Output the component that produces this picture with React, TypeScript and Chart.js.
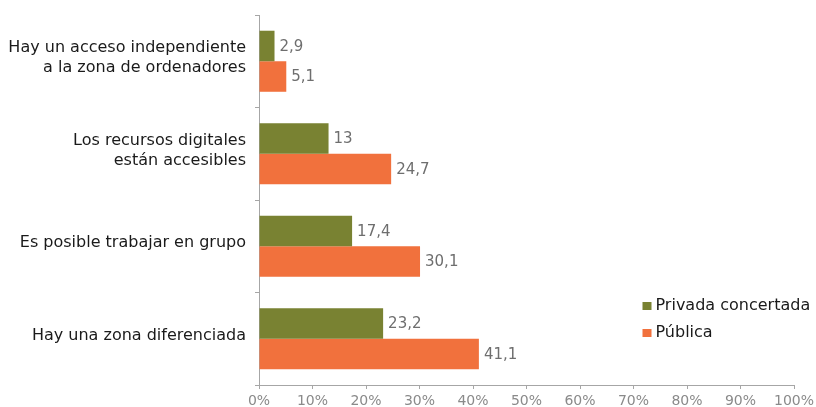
import React, { useEffect, useRef } from "react";
import { Chart, registerables } from "chart.js";

Chart.register(...registerables);

const categories: string[][] = [
  ["Hay un acceso independiente", "a la zona de ordenadores"],
  ["Los recursos digitales", "están accesibles"],
  ["Es posible trabajar en grupo"],
  ["Hay una zona diferenciada"],
];
const privadaValues = [2.9, 13, 17.4, 23.2];
const publicaValues = [5.1, 24.7, 30.1, 41.1];
const seriesNames = ["Privada concertada", "Pública"];
const seriesColors = ["#798232", "#F1713D"];
const xTicks = [0, 10, 20, 30, 40, 50, 60, 70, 80, 90, 100];

const FONT = "'DejaVu Sans', Verdana, sans-serif";

const fmt = (v: number) => String(v).replace(".", ",");

const valueLabels = {
  id: "valueLabels",
  afterDatasetsDraw(chart: any) {
    const ctx = chart.ctx;
    ctx.save();
    ctx.font = `15px ${FONT}`;
    ctx.fillStyle = "#6e6e6e";
    ctx.textAlign = "left";
    ctx.textBaseline = "middle";
    chart.data.datasets.forEach((ds: any, i: number) => {
      const meta = chart.getDatasetMeta(i);
      meta.data.forEach((el: any, j: number) => {
        ctx.fillText(fmt(ds.data[j]), el.x + 5, el.y + 1);
      });
    });
    ctx.restore();
  },
};

const customLegend = {
  id: "customLegend",
  afterDraw(chart: any) {
    const ctx = chart.ctx;
    const area = chart.chartArea;
    const x = area.left + 0.7 * (area.right - area.left) + 9;
    const baselines = [area.top + 295, area.top + 322];
    ctx.save();
    ctx.font = `16px ${FONT}`;
    ctx.textAlign = "left";
    ctx.textBaseline = "alphabetic";
    seriesNames.forEach((name, i) => {
      ctx.fillStyle = seriesColors[i];
      ctx.fillRect(x, baselines[i] - 8, 9, 8);
      ctx.fillStyle = "#1a1a1a";
      ctx.fillText(name, x + 13, baselines[i]);
    });
    ctx.restore();
  },
};

export default function App() {
  const ref = useRef<HTMLCanvasElement | null>(null);
  useEffect(() => {
    document.body.style.margin = "0";
    const chart = new Chart(ref.current!, {
      type: "bar",
      data: {
        labels: categories,
        datasets: [
          {
            label: seriesNames[0],
            data: privadaValues,
            backgroundColor: seriesColors[0],
            categoryPercentage: 0.66,
            barPercentage: 1,
          },
          {
            label: seriesNames[1],
            data: publicaValues,
            backgroundColor: seriesColors[1],
            categoryPercentage: 0.66,
            barPercentage: 1,
          },
        ],
      },
      options: {
        indexAxis: "y",
        animation: false,
        responsive: false,
        layout: { padding: { top: 15, right: 22, left: 0, bottom: 0 } },
        plugins: {
          legend: { display: false },
          tooltip: { enabled: false },
        },
        scales: {
          x: {
            min: 0,
            max: 100,
            afterBuildTicks: (s: any) => {
              s.ticks = xTicks.map((v) => ({ value: v }));
            },
            afterFit: (s: any) => {
              s.height = 22;
              s.paddingLeft = 0;
              s.paddingRight = 0;
            },
            grid: {
              drawOnChartArea: false,
              drawTicks: true,
              tickLength: 4,
              color: "#a6a6a6",
            },
            border: { color: "#a6a6a6", width: 1 },
            ticks: {
              padding: 4,
              color: "#8a8a8a",
              font: { family: FONT, size: 14 },
              callback: (v: any) => `${v}%`,
            },
          },
          y: {
            afterFit: (s: any) => {
              s.width = 259;
              s.paddingTop = 0;
              s.paddingBottom = 0;
            },
            grid: {
              drawOnChartArea: false,
              drawTicks: true,
              tickLength: 4,
              offset: true,
              color: "#a6a6a6",
            },
            border: { color: "#a6a6a6", width: 1 },
            ticks: {
              padding: 9,
              labelOffset: -3,
              color: "#1a1a1a",
              font: { family: FONT, size: 16, lineHeight: 1.25 },
            },
          },
        },
      },
      plugins: [valueLabels, customLegend],
    });
    return () => chart.destroy();
  }, []);
  return (
    <div style={{ position: "absolute", left: 0, top: 0, width: 816, height: 407 }}>
      <canvas ref={ref} width={816} height={407} />
    </div>
  );
}
